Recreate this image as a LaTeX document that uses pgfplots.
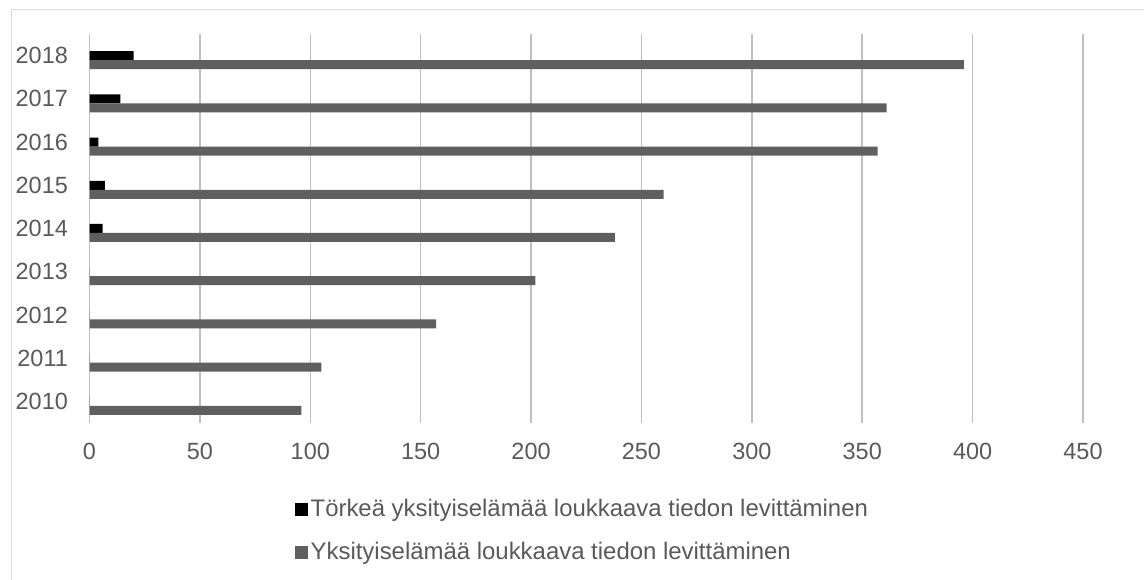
\documentclass[border=0pt]{standalone}
\usepackage{pgfplots}
\pgfplotsset{compat=1.18}
\usepackage{fontspec}
\setmainfont{Liberation Sans}
\definecolor{txt}{HTML}{595959}
\definecolor{grid}{HTML}{D9D9D9}
\definecolor{bargray}{HTML}{5F5F5F}
\begin{document}
\begin{tikzpicture}
\useasboundingbox (0pt,0pt) rectangle (858pt,435pt);
\draw[grid, line width=0.9pt] (8.625pt,0pt) -- (8.625pt,427.875pt) -- (858pt,427.875pt);
\begin{axis}[
  at={(67.125pt,117.75pt)}, anchor=south west,
  scale only axis,
  width=745.125pt, height=291.75pt,
  xmin=0, xmax=450,
  ymin=-0.5, ymax=8.5,
  xbar, bar width=6.75pt,
  axis line style={draw=none},
  major tick length=0pt,
  xtick={0,50,...,450},
  ytick={0,...,8},
  yticklabels={2010,2011,2012,2013,2014,2015,2016,2017,2018},
  xmajorgrids, major grid style={grid, line width=1.1pt},
  ymajorgrids=false,
  tick label style={font=\fontsize{17.6}{20}\selectfont, text=txt},
  /pgf/number format/assume math mode=true,
  yticklabel style={anchor=east, inner sep=0pt},
  yticklabel shift=16pt,
  xticklabel style={anchor=north, inner sep=0pt},
  xticklabel shift=15pt,
  legend style={draw=none, fill=none, at={(0.2068,-0.2784)}, anchor=west,
    inner sep=0pt, row sep=16.25pt,
    nodes={font=\fontsize{17.95}{20}\selectfont, text=txt, inner xsep=1.8pt, inner ysep=0pt, text height=13pt, text depth=3pt}},
  legend cell align=left,
  clip=false,
]
\addplot[fill=black, draw=none, bar shift=0pt,
  legend image code/.code={\fill[black] (0pt,-4.875pt) rectangle (9.75pt,4.875pt);}]
  coordinates {(0,0) (0,1) (0,2) (0,3) (6,4) (7,5) (4,6) (14,7) (20,8)};
\addlegendentry{Törkeä yksityiselämää loukkaava tiedon levittäminen}
\addplot[fill=bargray, draw=none, bar shift=-6.75pt,
  legend image code/.code={\fill[bargray] (0pt,-4.875pt) rectangle (9.75pt,4.875pt);}]
  coordinates {(96,0) (105,1) (157,2) (202,3) (238,4) (260,5) (357,6) (361,7) (396,8)};
\addlegendentry{Yksityiselämää loukkaava tiedon levittäminen}
\end{axis}
\end{tikzpicture}
\end{document}
